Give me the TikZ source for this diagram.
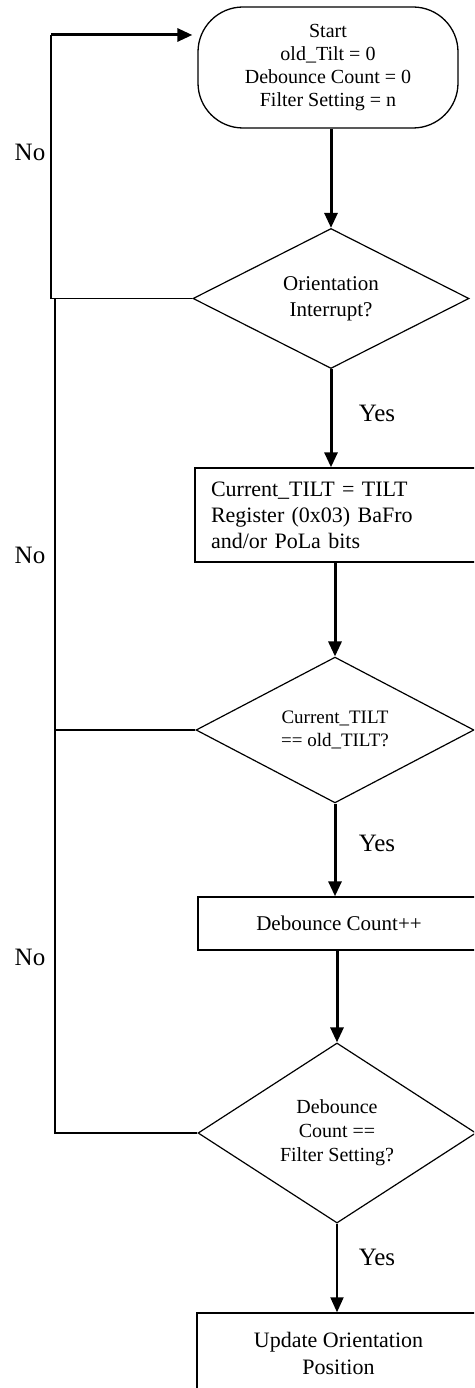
\documentclass[tikz,border=0pt]{standalone}
\usepackage{fontspec}
\setmainfont{Liberation Serif}
\usetikzlibrary{positioning,arrows.meta,shapes.geometric}

\begin{document}
\begin{tikzpicture}[x=1pt,y=-1pt,
  term/.style={draw,line width=1.3pt,rounded corners=45pt,minimum width=260pt,minimum height=121pt,inner sep=0pt,align=center,font=\fontsize{20}{23}\selectfont},
  decision/.style={draw,diamond,line width=1.2pt,inner sep=0pt,align=center},
  process/.style={draw,rectangle,line width=1.4pt,inner sep=0pt},
  flow/.style={line width=3pt,-{Triangle[length=15pt,width=13pt]}},
  back/.style={line width=1.2pt},
  lbl/.style={font=\fontsize{25}{28}\selectfont}]
\useasboundingbox (0,0) rectangle (474,1388);
\clip (0,0) rectangle (474,1388);

% Boxes
\node[term] (start) at (328,67.5) {Start\\old\_Tilt = 0\\Debounce Count = 0\\Filter Setting = n};
\node[decision,minimum width=276pt,minimum height=139pt,font=\fontsize{21}{26}\selectfont] (orient) at (331,298.5) {Orientation\\Interrupt?};
\node[process,minimum width=285pt,minimum height=94pt,text width=253pt,align=left,font=\fontsize{22}{26}\selectfont] (readtilt) at (337.5,515) {Current\_TILT = TILT\\Register (0x03) BaFro\\and/or PoLa bits};
\node[decision,minimum width=278pt,minimum height=139pt,font=\fontsize{19}{23}\selectfont] (same) at (335,730) {Current\_TILT\\== old\_TILT?};
\node[process,minimum width=282pt,minimum height=53pt,font=\fontsize{21}{24}\selectfont] (count) at (339,923.5) {Debounce Count++};
\node[decision,minimum width=278pt,minimum height=159pt,font=\fontsize{20}{24}\selectfont] (filter) at (337,1133) {Debounce\\Count ==\\Filter Setting?};
\node[process,minimum width=283pt,minimum height=80pt,align=center,font=\fontsize{22}{27}\selectfont] (update) at (338.5,1353) {Update Orientation\\Position};

% Yes path
\draw[flow] (orient.north |- start.south) -- (orient.north);
\draw[flow] (orient.south) -- (orient.south |- readtilt.north);
\draw[flow] (same.north |- readtilt.south) -- (same.north);
\draw[flow] (same.south) -- (same.south |- count.north);
\draw[flow] (filter.north |- count.south) -- (filter.north);
\draw[flow,line width=2pt] (filter.south) -- (filter.south |- update.north);

% No path back to start
\coordinate (loop) at (51,35);
\coordinate (j1) at (51,298.5);
\coordinate (j1b) at (55,298.5);
\coordinate (j3) at (55,1133);
\draw[back] (orient.west) -- (j1) -- (loop);
\draw[back] (filter.west) -- (j3) -- (j1b);
\draw[back] (same.west) -- (same.west -| j3);
\draw[flow,shorten >=5pt] (loop) -- (loop -| start.west);

% Labels
\node[lbl] (no1) at (30,152) {No};
\node[lbl] (no2) at (30,555) {No};
\node[lbl] (no3) at (30,957) {No};
\node[lbl] (yes1) at (377,413) {Yes};
\node[lbl] (yes2) at (377,843) {Yes};
\node[lbl] (yes3) at (377,1257) {Yes};
\end{tikzpicture}
\end{document}
